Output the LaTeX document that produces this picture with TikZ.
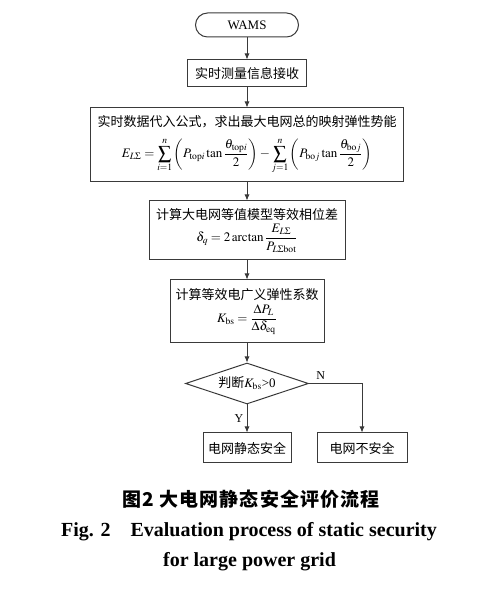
\documentclass[tikz,border=0pt]{standalone}
\usepackage{mathptmx}
\usepackage{amsmath}
\usepackage{fontspec}
\setmainfont{Liberation Serif}
\newfontfamily\cjk{Noto Sans CJK SC}
\newfontfamily\capcjk{Noto Sans CJK SC}[LetterSpace=6.0]
\usetikzlibrary{positioning, arrows.meta, shapes.geometric}
\definecolor{Line}{HTML}{3A3A3A}
\tikzset{
    flowbox/.style={rectangle, draw=Line, line width=1pt, align=center, inner sep=2pt, font=\fontsize{13}{19}\selectfont},
    startbox/.style={flowbox, rounded corners=12pt},
    judgebox/.style={diamond, draw=Line, line width=1pt, aspect=3, inner sep=0pt, font=\fontsize{13}{16}\selectfont},
    flowarrow/.style={-{Latex[length=6pt, width=5pt]}, line width=0.8pt, color=Line},
    branchlabel/.style={font=\fontsize{12}{14}\selectfont, text=black},
    caption/.style={font=\bfseries\fontsize{20}{23}\selectfont},
    cncaption/.style={font=\bfseries\fontsize{19}{23}\selectfont},
}

\begin{document}
\begin{tikzpicture}[x=1pt, y=1pt]
    \useasboundingbox (0,0) rectangle (500,591);

    % Avvio e acquisizione
    \node[startbox, minimum width=103pt, minimum height=24pt] (wams) at (247,566) {WAMS};
    \node[flowbox, minimum width=119pt, minimum height=27pt] (receive) at (247,517.5) {\cjk 实时测量信息接收};

    % Energia elastica totale
    \node[flowbox, minimum width=313pt, minimum height=74pt] (energy) at (247,446)
        {{\cjk 实时数据代入公式，求出最大电网总的映射弹性势能}\\[9pt]
         $\displaystyle E_{L\Sigma}=\sum_{i=1}^{n}\left(P_{\mathrm{top}i}\tan\frac{\theta_{\mathrm{top}i}}{2}\right)-\sum_{j=1}^{n}\left(P_{\mathrm{bo}j}\tan\frac{\theta_{\mathrm{bo}j}}{2}\right)$};

    % Differenza di fase equivalente
    \node[flowbox, minimum width=196pt, minimum height=59pt] (phase) at (247,360.5)
        {{\cjk 计算大电网等值模型等效相位差}\\[3pt]
         $\delta_{q}=2\arctan\dfrac{E_{L\Sigma}}{P_{L\Sigma\mathrm{bot}}}$};

    % Coefficiente elastico
    \node[flowbox, minimum width=154pt, minimum height=63pt] (coeff) at (247,279.5)
        {{\cjk 计算等效电广义弹性系数}\\[4pt]
         $K_{\mathrm{bs}}=\dfrac{\Delta P_{L}}{\Delta\delta_{\mathrm{eq}}}$};

    % Decisione
    \node[judgebox, minimum width=123pt, minimum height=41pt] (judge) at (247,207.5)
        {{\cjk 判断}$K_{\mathrm{bs}}$>0};
    \node[flowbox, minimum width=88pt, minimum height=30pt] (safe) at (247,143) {\cjk 电网静态安全};
    \node[flowbox, minimum width=90pt, minimum height=30pt] (unsafe) at (362,143) {\cjk 电网不安全};

    % Collegamenti
    \draw[flowarrow] (wams) -- (receive);
    \draw[flowarrow] (receive) -- (energy);
    \draw[flowarrow] (energy) -- (phase);
    \draw[flowarrow] (phase) -- (coeff);
    \draw[flowarrow] (coeff) -- (judge);
    \draw[flowarrow] (judge) -- node[branchlabel, left] {Y} (safe);
    \draw[flowarrow] (judge.east) -| node[branchlabel, pos=0.11, above] {N} (unsafe.north);

    % Didascalia
    \node[cncaption] (capcn) at (251,92) {\capcjk 图2\ 大电网静态安全评价流程};
    \node[caption] (capen) at (249,59) {Fig. 2\quad Evaluation process of static security};
    \node[caption] (capgrid) at (249.5,29) {for large power grid};
\end{tikzpicture}
\end{document}
